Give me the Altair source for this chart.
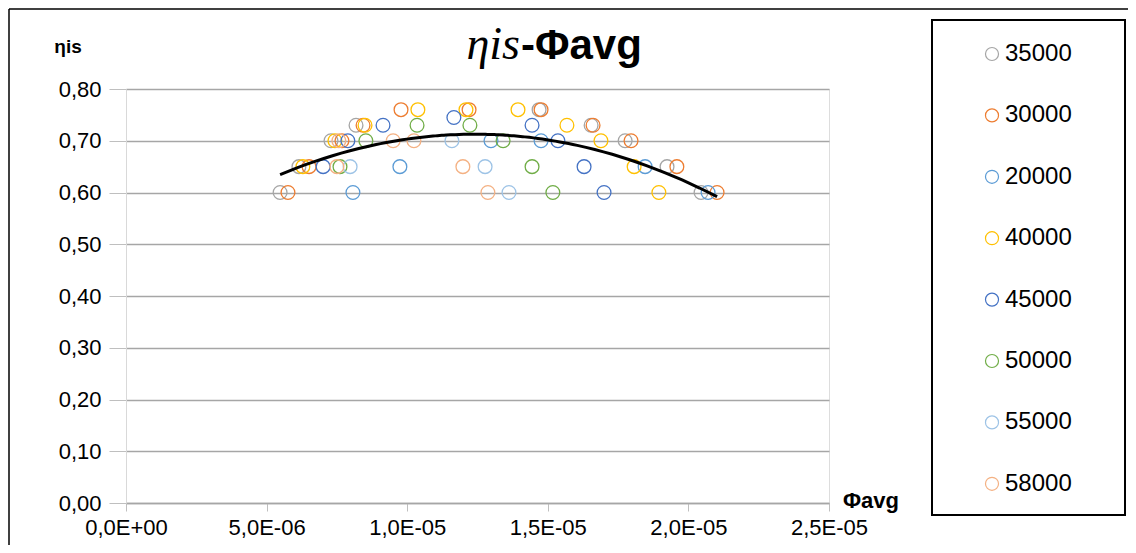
import altair as alt
import pandas as pd

series_order = ["35000", "30000", "20000", "40000", "45000", "50000", "55000", "58000"]
series_colors = ["#A5A5A5", "#ED7D31", "#5B9BD5", "#FFC000", "#4472C4", "#70AD47", "#9DC3E6", "#F4B183"]

phi_35000 = [5.48e-6, 6.15e-6, 7.29e-6, 8.18e-6, 1.469e-5, 1.654e-5, 1.775e-5, 1.924e-5, 2.045e-5]
eta_35000 = [0.60, 0.65, 0.70, 0.73, 0.76, 0.73, 0.70, 0.65, 0.60]

phi_30000 = [5.76e-6, 6.51e-6, 7.68e-6, 8.43e-6, 9.78e-6, 1.220e-5, 1.476e-5, 1.661e-5, 1.796e-5, 1.959e-5, 2.102e-5]
eta_30000 = [0.60, 0.65, 0.70, 0.73, 0.76, 0.76, 0.76, 0.73, 0.70, 0.65, 0.60]

phi_20000 = [8.07e-6, 9.74e-6, 1.298e-5, 1.476e-5, 1.846e-5, 2.070e-5]
eta_20000 = [0.60, 0.65, 0.70, 0.70, 0.65, 0.60]

phi_40000 = [6.29e-6, 7.43e-6, 8.50e-6, 1.038e-5, 1.209e-5, 1.394e-5, 1.568e-5, 1.689e-5, 1.807e-5, 1.895e-5]
eta_40000 = [0.65, 0.70, 0.73, 0.76, 0.76, 0.76, 0.73, 0.70, 0.65, 0.60]

phi_45000 = [7.01e-6, 7.89e-6, 9.14e-6, 1.166e-5, 1.444e-5, 1.536e-5, 1.629e-5, 1.700e-5]
eta_45000 = [0.65, 0.70, 0.73, 0.745, 0.73, 0.70, 0.65, 0.60]

phi_50000 = [7.61e-6, 8.53e-6, 1.035e-5, 1.223e-5, 1.341e-5, 1.444e-5, 1.518e-5]
eta_50000 = [0.65, 0.70, 0.73, 0.73, 0.70, 0.65, 0.60]

phi_55000 = [7.97e-6, 1.159e-5, 1.277e-5, 1.362e-5]
eta_55000 = [0.65, 0.70, 0.65, 0.60]

phi_58000 = [7.50e-6, 7.57e-6, 9.50e-6, 1.024e-5, 1.198e-5, 1.287e-5]
eta_58000 = [0.65, 0.70, 0.70, 0.70, 0.65, 0.60]

x_ticks = [0, 5e-6, 1e-5, 1.5e-5, 2e-5, 2.5e-5]
x_tick_labels = ["0,0E+00", "5,0E-06", "1,0E-05", "1,5E-05", "2,0E-05", "2,5E-05"]
y_ticks = [0, 0.1, 0.2, 0.3, 0.4, 0.5, 0.6, 0.7, 0.8]

all_series = {
    "35000": (phi_35000, eta_35000),
    "30000": (phi_30000, eta_30000),
    "20000": (phi_20000, eta_20000),
    "40000": (phi_40000, eta_40000),
    "45000": (phi_45000, eta_45000),
    "50000": (phi_50000, eta_50000),
    "55000": (phi_55000, eta_55000),
    "58000": (phi_58000, eta_58000),
}
rows = []
for name, (ph, et) in all_series.items():
    for p, e in zip(ph, et):
        rows.append({"series": name, "phi": p, "eta": e})
df = pd.DataFrame(rows)

x_expr = ""
for v, lab in zip(x_ticks, x_tick_labels):
    x_expr += f"abs(datum.value - {v}) < 1e-9 ? '{lab}' : "
x_expr += "''"

FONT = "Liberation Sans"

x_scale = alt.Scale(domain=[0, 2.5e-5], nice=False, zero=False)
y_scale = alt.Scale(domain=[0, 0.8], nice=False)

x_axis = alt.Axis(values=x_ticks, labelExpr=x_expr, grid=False, title=None,
                  domainColor="#A6A6A6", domainWidth=1.5, tickColor="#BFBFBF",
                  tickSize=8, labelPadding=6, labelFontSize=22, labelFont=FONT,
                  labelColor="#000000", labelFlush=False)
y_axis = alt.Axis(values=y_ticks, labelExpr="replace(format(datum.value, '.2f'), '.', ',')",
                  grid=True, gridColor="#A6A6A6", gridWidth=1.5, title=None,
                  domainColor="#D9D9D9", tickColor="#BFBFBF", tickSize=17,
                  labelPadding=8, labelFontSize=22, labelFont=FONT, labelColor="#000000")

points = alt.Chart(df).mark_point(shape="circle", filled=False, size=190, strokeWidth=1.3, opacity=1).encode(
    x=alt.X("phi:Q", scale=x_scale, axis=x_axis),
    y=alt.Y("eta:Q", scale=y_scale, axis=y_axis),
    color=alt.Color("series:N", scale=alt.Scale(domain=series_order, range=series_colors),
                    legend=alt.Legend(title=None, orient="none", legendX=854, legendY=-47,
                                      labelFontSize=24, labelFont=FONT, labelColor="#000000",
                                      symbolSize=170, symbolStrokeWidth=1.2, symbolType="circle",
                                      rowPadding=37.4, labelOffset=1, padding=0)),
)

trend = alt.Chart(df).transform_regression(
    "phi", "eta", method="poly", order=2, extent=[min(df["phi"]), max(df["phi"])]
).mark_line(color="black", strokeWidth=3).encode(
    x=alt.X("phi:Q", scale=x_scale),
    y=alt.Y("eta:Q", scale=y_scale),
)

one = pd.DataFrame({"k": [0]})
legend_box = alt.Chart(one).mark_rect(filled=False, stroke="black", strokeWidth=2).encode(
    x=alt.value(806), x2=alt.value(999), y=alt.value(-69), y2=alt.value(426)
)
border_top = alt.Chart(one).mark_rule(color="black", strokeWidth=1.5).encode(
    x=alt.value(-117), x2=alt.value(1010), y=alt.value(-80)
)
border_left = alt.Chart(one).mark_rule(color="black", strokeWidth=1.5).encode(
    x=alt.value(-117), y=alt.value(-80), y2=alt.value(470)
)
title_a = alt.Chart(one).mark_text(text="ηis", font="Liberation Serif", fontStyle="italic",
                                   fontSize=46, align="right", baseline="alphabetic", color="black").encode(
    x=alt.value(394), y=alt.value(-30)
)
title_b = alt.Chart(one).mark_text(text="-Φavg", font=FONT, fontWeight="bold",
                                   fontSize=42, align="left", baseline="alphabetic", color="black").encode(
    x=alt.value(395), y=alt.value(-30)
)
y_title = alt.Chart(one).mark_text(text="ηis", font=FONT, fontWeight="bold", fontSize=19,
                                   align="center", baseline="middle", color="black").encode(
    x=alt.value(-58), y=alt.value(-42)
)
x_title = alt.Chart(one).mark_text(text="Φavg", font=FONT, fontWeight="bold", fontSize=22,
                                   align="center", baseline="middle", color="black").encode(
    x=alt.value(745), y=alt.value(412)
)

chart = alt.layer(points, trend, legend_box, border_top, border_left, title_a, title_b, y_title, x_title).properties(
    width=703, height=414,
    autosize=alt.AutoSizeParams(type="none"),
    padding={"left": 118, "top": 81, "right": 299, "bottom": 42},
).configure_view(stroke=None).configure(background="white")

chart.save("out.html", embed_options={"renderer": "svg", "actions": False})
